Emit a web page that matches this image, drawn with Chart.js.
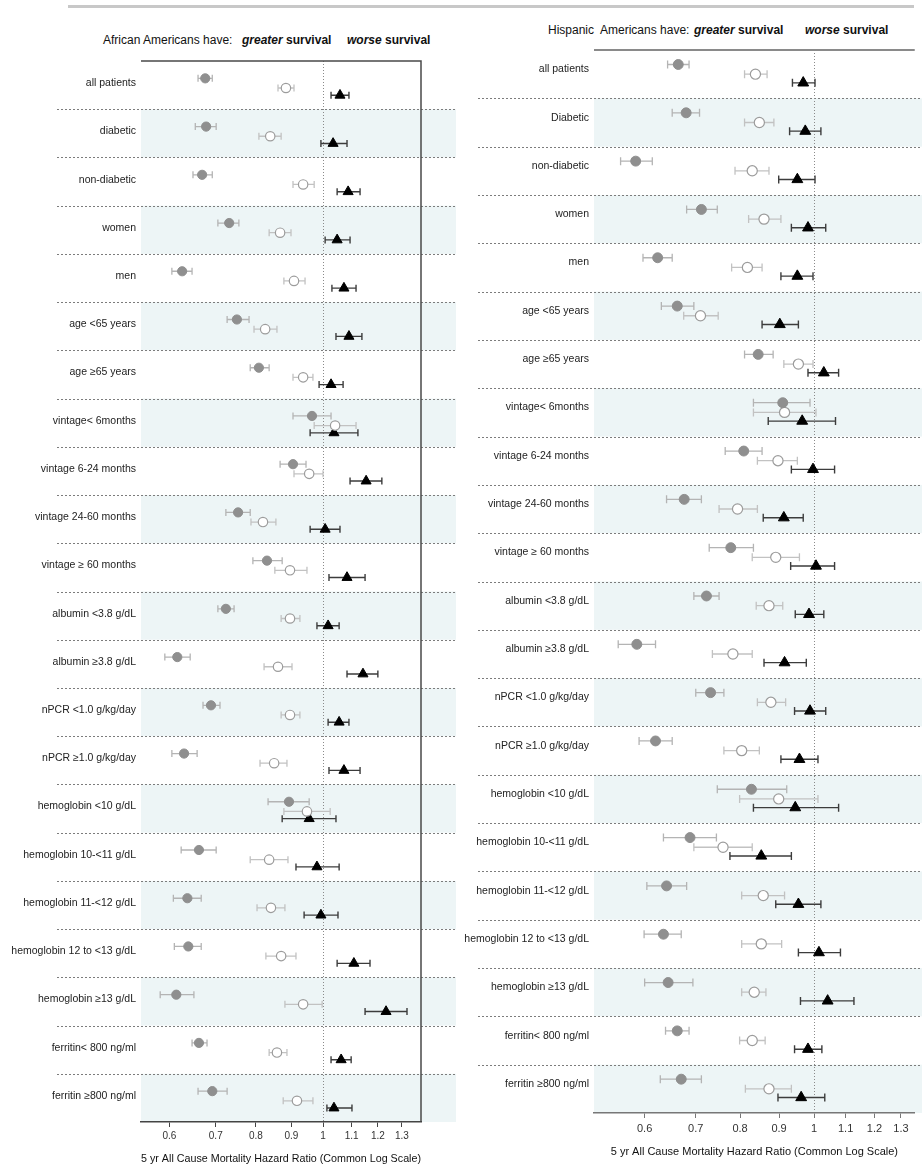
<!DOCTYPE html>
<html>
<head>
<meta charset="utf-8">
<script src="https://cdn.jsdelivr.net/npm/chart.js@4.4.1/dist/chart.umd.min.js"></script>
<style>
  body { margin: 0; background: #fff; font-family: "Liberation Sans", Arial, sans-serif; }
  #page { position: relative; width: 922px; height: 1170px; overflow: hidden; }
  .rule { position: absolute; left: 68px; top: 5px; width: 846px; height: 3px; background: #c8c8c8; }
  .head { position: absolute; font-size: 12px; line-height: 14px; color: #111; white-space: pre; }
  .head b { font-weight: bold; }
  canvas { position: absolute; top: 0; }
</style>
</head>
<body>
<div id="page">
  <div class="rule"></div>
  <div class="head" style="left:103px; top:33px">African Americans have:</div>
  <div class="head" style="left:242px; top:33px"><b><i>greater</i> survival</b></div>
  <div class="head" style="left:347px; top:33px"><b><i>worse</i> survival</b></div>
  <div class="head" style="left:548px; top:23px">Hispanic  Americans have:</div>
  <div class="head" style="left:694px; top:23px"><b><i>greater</i> survival</b></div>
  <div class="head" style="left:805px; top:23px"><b><i>worse</i> survival</b></div>
  <canvas id="aaChart" width="462" height="1170" style="left:0"></canvas>
  <canvas id="haChart" width="472" height="1170" style="left:450px"></canvas>
</div>
<script>
// subgroup rows
const aaRows = ["all patients", "diabetic", "non-diabetic", "women", "men", "age <65 years", "age \u226565 years",
  "vintage< 6months", "vintage 6-24 months", "vintage 24-60 months", "vintage \u2265 60 months",
  "albumin <3.8 g/dL", "albumin \u22653.8 g/dL", "nPCR <1.0 g/kg/day", "nPCR \u22651.0 g/kg/day",
  "hemoglobin <10 g/dL", "hemoglobin 10-<11 g/dL", "hemoglobin 11-<12 g/dL", "hemoglobin 12 to <13 g/dL",
  "hemoglobin \u226513 g/dL", "ferritin< 800 ng/ml", "ferritin \u2265800 ng/ml"];
const haRows = ["all patients", "Diabetic", "non-diabetic", "women", "men", "age <65 years", "age \u226565 years",
  "vintage< 6months", "vintage 6-24 months", "vintage 24-60 months", "vintage \u2265 60 months",
  "albumin <3.8 g/dL", "albumin \u22653.8 g/dL", "nPCR <1.0 g/kg/day", "nPCR \u22651.0 g/kg/day",
  "hemoglobin <10 g/dL", "hemoglobin 10-<11 g/dL", "hemoglobin 11-<12 g/dL", "hemoglobin 12 to <13 g/dL",
  "hemoglobin \u226513 g/dL", "ferritin< 800 ng/ml", "ferritin \u2265800 ng/ml"];

const hrTicks = [0.6, 0.7, 0.8, 0.9, 1, 1.1, 1.2, 1.3];
const axisTitle = "5 yr All Cause Mortality Hazard Ratio (Common Log Scale)";

// African Americans: hazard ratio and 95% CI, three models
const aaM1Hr = [0.676, 0.678, 0.669, 0.732, 0.626, 0.751, 0.808, 0.964, 0.905, 0.754, 0.830, 0.724, 0.616, 0.689, 0.630, 0.893, 0.662, 0.637, 0.639, 0.614, 0.662, 0.692];
const aaM1Lo = [0.660, 0.654, 0.649, 0.705, 0.605, 0.727, 0.785, 0.905, 0.867, 0.724, 0.792, 0.705, 0.591, 0.671, 0.605, 0.833, 0.624, 0.608, 0.610, 0.582, 0.647, 0.660];
const aaM1Hi = [0.692, 0.701, 0.692, 0.756, 0.647, 0.782, 0.836, 1.027, 0.945, 0.785, 0.873, 0.744, 0.643, 0.710, 0.658, 0.955, 0.701, 0.667, 0.667, 0.651, 0.680, 0.727];

const aaM2Hr = [0.884, 0.839, 0.936, 0.867, 0.908, 0.825, 0.936, 1.041, 0.955, 0.819, 0.896, 0.896, 0.861, 0.896, 0.850, 0.948, 0.836, 0.841, 0.870, 0.936, 0.858, 0.917];
const aaM2Lo = [0.861, 0.808, 0.905, 0.836, 0.878, 0.795, 0.905, 0.971, 0.908, 0.787, 0.852, 0.870, 0.822, 0.870, 0.811, 0.878, 0.785, 0.803, 0.827, 0.881, 0.836, 0.876];
const aaM2Hi = [0.908, 0.870, 0.971, 0.899, 0.942, 0.858, 0.967, 1.116, 1.000, 0.855, 0.948, 0.926, 0.902, 0.926, 0.887, 1.024, 0.890, 0.881, 0.914, 0.997, 0.887, 0.967];

const aaM3Hr = [1.058, 1.034, 1.087, 1.048, 1.072, 1.090, 1.027, 1.037, 1.154, 1.007, 1.083, 1.017, 1.142, 1.055, 1.072, 0.955, 0.980, 0.993, 1.108, 1.233, 1.062, 1.037];
const aaM3Lo = [1.027, 0.993, 1.048, 1.007, 1.030, 1.044, 0.987, 0.958, 1.094, 0.958, 1.020, 0.980, 1.083, 1.017, 1.020, 0.873, 0.914, 0.939, 1.048, 1.150, 1.027, 1.013];
const aaM3Hi = [1.090, 1.083, 1.131, 1.094, 1.116, 1.138, 1.069, 1.123, 1.216, 1.058, 1.150, 1.055, 1.200, 1.090, 1.131, 1.044, 1.055, 1.051, 1.169, 1.322, 1.098, 1.101];

// Hispanic Americans
const haM1Hr = [0.664, 0.680, 0.584, 0.712, 0.624, 0.662, 0.845, 0.910, 0.809, 0.676, 0.778, 0.723, 0.586, 0.732, 0.620, 0.828, 0.688, 0.641, 0.635, 0.644, 0.662, 0.670];
const haM1Lo = [0.643, 0.652, 0.558, 0.681, 0.597, 0.631, 0.811, 0.833, 0.765, 0.641, 0.729, 0.696, 0.554, 0.700, 0.590, 0.747, 0.635, 0.604, 0.599, 0.600, 0.639, 0.629];
const haM1Hi = [0.686, 0.708, 0.614, 0.747, 0.652, 0.696, 0.884, 0.988, 0.855, 0.712, 0.833, 0.751, 0.620, 0.762, 0.652, 0.921, 0.745, 0.681, 0.670, 0.694, 0.686, 0.712];

const haM2Hr = [0.838, 0.848, 0.830, 0.860, 0.818, 0.710, 0.954, 0.915, 0.897, 0.794, 0.891, 0.873, 0.783, 0.878, 0.804, 0.899, 0.760, 0.858, 0.853, 0.835, 0.830, 0.873];
const haM2Lo = [0.811, 0.811, 0.788, 0.821, 0.780, 0.675, 0.913, 0.833, 0.843, 0.751, 0.830, 0.840, 0.736, 0.843, 0.762, 0.799, 0.696, 0.804, 0.804, 0.804, 0.799, 0.813];
const haM2Hi = [0.868, 0.886, 0.873, 0.905, 0.855, 0.749, 0.997, 1.006, 0.951, 0.843, 0.957, 0.910, 0.830, 0.918, 0.848, 1.012, 0.830, 0.915, 0.907, 0.865, 0.863, 0.934];

const haM3Hr = [0.968, 0.974, 0.951, 0.982, 0.951, 0.902, 1.030, 0.965, 0.997, 0.913, 1.006, 0.985, 0.915, 0.988, 0.957, 0.945, 0.853, 0.954, 1.015, 1.042, 0.982, 0.962];
const haM3Lo = [0.937, 0.929, 0.899, 0.934, 0.905, 0.855, 0.982, 0.871, 0.934, 0.858, 0.932, 0.945, 0.860, 0.943, 0.905, 0.833, 0.776, 0.891, 0.954, 0.960, 0.943, 0.897];
const haM3Hi = [1.003, 1.021, 1.003, 1.036, 0.997, 0.954, 1.077, 1.067, 1.064, 0.968, 1.064, 1.030, 0.977, 1.036, 1.012, 1.077, 0.934, 1.021, 1.083, 1.128, 1.024, 1.033];

const FONT = "'Liberation Sans', Arial, sans-serif";

//! forest panel

function forestPanel(id, rows, series, o) {
  const decor = {
    id: "forestDecor",
    beforeDraw(chart) {
      const { ctx, chartArea: a, scales: { x, y } } = chart;
      ctx.save();
      // alternate row bands
      ctx.fillStyle = "#edf5f6";
      rows.forEach((r, i) => {
        if (i % 2 === 0) return;
        const t = y.getPixelForValue(i), b = y.getPixelForValue(i + 1);
        ctx.fillRect(a.left, t, o.bandRight - a.left, b - t);
      });
      // dashed row separators
      ctx.strokeStyle = "#7c7c7c";
      ctx.lineWidth = 1;
      ctx.setLineDash([2, 2]);
      for (let i = 1; i < rows.length; i++) {
        const py = Math.round(y.getPixelForValue(i)) + 0.5;
        ctx.beginPath();
        ctx.moveTo(o.sepLeft, py);
        ctx.lineTo(o.bandRight, py);
        ctx.stroke();
      }
      // HR = 1 reference
      const x1 = Math.round(x.getPixelForValue(1)) + 0.5;
      ctx.strokeStyle = "#8a8a8a";
      ctx.setLineDash([1, 2]);
      ctx.beginPath();
      ctx.moveTo(x1, a.top);
      ctx.lineTo(x1, a.bottom);
      ctx.stroke();
      ctx.setLineDash([]);
      // frame
      ctx.strokeStyle = o.frameColor;
      ctx.lineWidth = o.frameWidth;
      ctx.beginPath();
      ctx.moveTo(a.left, a.top);
      ctx.lineTo(a.right, a.top);
      if (o.rightBorder) ctx.lineTo(a.right, a.bottom);
      ctx.stroke();
      ctx.restore();
    },
    beforeDatasetsDraw(chart) {
      const { ctx, scales: { x, y } } = chart;
      ctx.save();
      series.forEach(s => {
        ctx.strokeStyle = s.barColor;
        ctx.lineWidth = s.barWidth;
        s.hr.forEach((v, i) => {
          const py = y.getPixelForValue(i + s.offset);
          const x0 = x.getPixelForValue(s.lo[i]), x2 = x.getPixelForValue(s.hi[i]);
          ctx.beginPath();
          ctx.moveTo(x0, py); ctx.lineTo(x2, py);
          ctx.moveTo(x0, py - o.cap); ctx.lineTo(x0, py + o.cap);
          ctx.moveTo(x2, py - o.cap); ctx.lineTo(x2, py + o.cap);
          ctx.stroke();
        });
      });
      ctx.restore();
    }
  };

  return new Chart(document.getElementById(id), {
    type: "scatter",
    data: {
      datasets: series.map(s => ({
        data: s.hr.map((v, i) => ({ x: v, y: i + s.offset })),
        pointStyle: s.style,
        pointRadius: s.radius,
        pointHoverRadius: s.radius,
        backgroundColor: s.fill,
        borderColor: s.stroke,
        borderWidth: s.borderWidth,
      })),
    },
    options: {
      responsive: false,
      animation: false,
      events: [],
      layout: { padding: { left: 0, right: o.padRight, top: o.top, bottom: 0 } },
      plugins: { legend: { display: false }, tooltip: { enabled: false } },
      scales: {
        x: {
          type: "logarithmic",
          min: o.min,
          max: o.max,
          bounds: "data",
          afterBuildTicks: s => { s.ticks = hrTicks.map(v => ({ value: v })); },
          afterFit: s => { s.height = o.axisHeight; },
          ticks: {
            autoSkip: false,
            maxRotation: 0,
            callback: v => String(v),
            color: "#333",
            padding: o.tickPad,
            font: { family: FONT, size: o.tickSize },
          },
          grid: { drawOnChartArea: false, drawTicks: true, tickLength: 5, color: o.axisColor },
          border: { display: true, color: o.axisColor, width: 1.5 },
          title: {
            display: true,
            text: axisTitle,
            color: "#111",
            font: { family: FONT, size: 11 },
            padding: { top: 0, bottom: o.titlePad },
          },
        },
        y: {
          type: "linear",
          min: 0,
          max: rows.length,
          reverse: true,
          bounds: "data",
          afterBuildTicks: s => { s.ticks = rows.map((r, i) => ({ value: i + o.labelAt })); },
          afterFit: s => { s.width = o.labelWidth; },
          ticks: {
            autoSkip: false,
            callback: (v, i) => rows[i],
            color: "#222",
            padding: 5,
            font: { family: FONT, size: 10.5 },
          },
          grid: { display: false, drawTicks: false },
          border: { display: false },
        },
      },
    },
    plugins: [decor],
  });
}

function makeSeries(m1, m2, m3, offs, scale) {
  return [
    { hr: m1[0], lo: m1[1], hi: m1[2], offset: offs[0], style: "circle", radius: 4.6 * scale,
      fill: "#8f8f8f", stroke: "#8f8f8f", borderWidth: 1, barColor: "#b4b4b4", barWidth: 1.3 },
    { hr: m2[0], lo: m2[1], hi: m2[2], offset: offs[1], style: "circle", radius: 4.7 * scale,
      fill: "#ffffff", stroke: "#9c9c9c", borderWidth: 1.2, barColor: "#c2c2c2", barWidth: 1.3 },
    { hr: m3[0], lo: m3[1], hi: m3[2], offset: offs[2], style: "triangle", radius: 5.8 * scale,
      fill: "#000000", stroke: "#000000", borderWidth: 1, barColor: "#3c3c3c", barWidth: 1.4 },
  ];
}

forestPanel("aaChart", aaRows,
  makeSeries([aaM1Hr, aaM1Lo, aaM1Hi], [aaM2Hr, aaM2Lo, aaM2Hi], [aaM3Hr, aaM3Lo, aaM3Hi], [0.36, 0.56, 0.71], 1),
  { min: 0.546, max: 1.385, top: 61, padRight: 41, labelWidth: 141, axisHeight: 48, labelAt: 0.46,
    tickPad: 3, tickSize: 10, titlePad: 4, axisColor: "#444", frameColor: "#4a4a4a", frameWidth: 1.5,
    rightBorder: true, bandRight: 456, sepLeft: 57, cap: 3.5 });

forestPanel("haChart", haRows,
  makeSeries([haM1Hr, haM1Lo, haM1Hi], [haM2Hr, haM2Lo, haM2Hi], [haM3Hr, haM3Lo, haM3Hi], [0.3, 0.5, 0.68], 1.08),
  { min: 0.515, max: 1.355, top: 50, padRight: 0, labelWidth: 144, axisHeight: 57, labelAt: 0.4,
    tickPad: 4, tickSize: 11, titlePad: 11, axisColor: "#777", frameColor: "#8a8a8a", frameWidth: 2,
    rightBorder: false, bandRight: 472, sepLeft: 28, cap: 4 });
</script>
</body>
</html>
